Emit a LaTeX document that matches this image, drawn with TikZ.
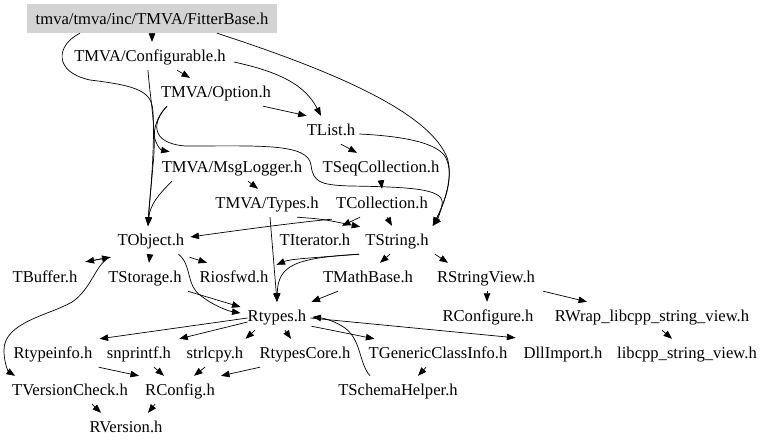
\documentclass[tikz,border=0pt]{standalone}
\usepackage{fontspec}
\setmainfont{Liberation Serif}
\usetikzlibrary{arrows.meta,calc}
\definecolor{boxgray}{RGB}{211,211,211}
\begin{document}
\begin{tikzpicture}[x=1pt,y=1pt,
 lbl/.style={inner sep=0pt,minimum height=28pt,text height=11.5pt,text depth=0pt,font=\fontsize{16.6}{19}\selectfont},
 arr/.style={-{Triangle[length=8.5pt,width=6.5pt]},line width=0.7pt}]
\fill[white] (0,0) rectangle (768,-447);
\path[use as bounding box] (0,0) rectangle (768,-447);
% nodes
\node[lbl,fill=boxgray,minimum width=250pt,minimum height=29pt] (fb) at (152,-18.5) {tmva/tmva/inc/TMVA/FitterBase.h};
\node[lbl] (conf) at (150,-56) {TMVA/Configurable.h};
\node[lbl] (opt) at (216,-92) {TMVA/Option.h};
\node[lbl] (tlist) at (331,-130) {TList.h};
\node[lbl] (msg) at (232,-167) {TMVA/MsgLogger.h};
\node[lbl] (tseq) at (381,-167) {TSeqCollection.h};
\node[lbl] (types) at (267,-203) {TMVA/Types.h};
\node[lbl] (tcoll) at (382,-203) {TCollection.h};
\node[lbl] (obj) at (151,-240) {TObject.h};
\node[lbl] (titer) at (315,-240) {TIterator.h};
\node[lbl] (tstr) at (397,-240) {TString.h};
\node[lbl] (tbuf) at (45,-277) {TBuffer.h};
\node[lbl] (tsto) at (145,-277) {TStorage.h};
\node[lbl] (rios) at (234,-277) {Riosfwd.h};
\node[lbl] (tmath) at (368,-277) {TMathBase.h};
\node[lbl] (rsv) at (486,-277) {RStringView.h};
\node[lbl] (rtypes) at (277,-316) {Rtypes.h};
\node[lbl] (rconfigure) at (488,-316) {RConfigure.h};
\node[lbl] (rwrap) at (652,-316) {RWrap\_libcpp\_string\_view.h};
\node[lbl] (rtinfo) at (53,-353) {Rtypeinfo.h};
\node[lbl] (snp) at (139,-353) {snprintf.h};
\node[lbl] (strl) at (215,-353) {strlcpy.h};
\node[lbl] (rtcore) at (305,-353) {RtypesCore.h};
\node[lbl] (tgci) at (438,-353) {TGenericClassInfo.h};
\node[lbl] (dll) at (563,-353) {DllImport.h};
\node[lbl] (libcpp) at (687,-353) {libcpp\_string\_view.h};
\node[lbl] (tver) at (70,-390) {TVersionCheck.h};
\node[lbl] (rconfig) at (180,-390) {RConfig.h};
\node[lbl] (tschema) at (398,-390) {TSchemaHelper.h};
\node[lbl] (rver) at (126,-427) {RVersion.h};
% edges
\draw[arr] (fb.south) -- (conf.north -| fb.south);
\draw[arr] ([xshift=-72pt]fb.south) .. controls (56,-45) and (53,-72) .. (90,-80) .. controls (140,-86) and (152,-92) .. (153,-112) .. controls (155,-150) and (150,-195) .. ([xshift=-3pt]obj.north);
\draw[arr] ([xshift=-2pt]conf.south) .. controls (150,-100) and (157,-130) .. (153,-165) .. controls (151,-190) and (149,-205) .. ([xshift=-3pt]obj.north);
\draw[arr] ([xshift=27pt]conf.south) -- ([xshift=-26pt]opt.north);
\draw[arr] ([xshift=8pt,yshift=-6pt]conf.east) .. controls (280,-72) and (305,-85) .. ([xshift=-10pt]tlist.north);
\draw[arr] ([xshift=65pt]fb.south) .. controls (330,-70) and (425,-110) .. (446,-155) .. controls (454,-172) and (446,-200) .. ([xshift=4pt]tstr.north east);
\draw[arr] ([xshift=4pt,yshift=-4pt]tlist.east) .. controls (400,-136) and (438,-142) .. (446,-158) .. controls (454,-175) and (446,-200) .. ([xshift=4pt]tstr.north east);
\draw[arr] ([xshift=-8pt]opt.south east) -- (tlist.north west);
\draw[arr] ([xshift=-49pt]opt.south) .. controls (155,-118) and (152,-135) .. (156,-142) .. controls (158,-147) and (161,-150) .. ([xshift=8pt,yshift=1pt]msg.north west);
\draw[arr] ([xshift=-49pt]opt.south) .. controls (152,-122) and (150,-143) .. (185,-146) .. controls (260,-146) and (308,-143) .. (311,-165) .. controls (313,-182) and (320,-185) .. (350,-186) .. controls (420,-187) and (445,-190) .. (442,-205) .. controls (440,-215) and (436,-222) .. ([xshift=4pt]tstr.north east);
\draw[arr] ([xshift=-60pt]msg.south) .. controls (158,-195) and (150,-205) .. ([xshift=-3pt]obj.north);
\draw[arr] ([xshift=16pt]msg.south) -- ([xshift=-9pt]types.north);
\draw[arr] ([xshift=10pt]tlist.south) -- ([xshift=-24pt]tseq.north);
\draw[arr] (tseq.south) -- (tcoll.north);
\draw[arr] ([xshift=5pt]tcoll.south) -- ([xshift=-5pt]tstr.north);
\draw[arr] ([xshift=-22pt]tcoll.south) -- ([xshift=27pt]titer.north);
\draw[arr] ([xshift=-4pt,yshift=-2pt]tcoll.south west) .. controls (300,-222) and (240,-230) .. ([xshift=6pt,yshift=3pt]obj.east);
\draw[arr] ([xshift=30pt]types.south) .. controls (322,-219) .. ([xshift=-5pt,yshift=-1pt]tstr.north west);
\draw[arr] ([xshift=3pt]types.south) -- (rtypes.north);
\draw[arr] ([xshift=-38pt]tstr.south) .. controls (295,-258) and (278,-265) .. (rtypes.north);
\draw[arr] ([xshift=-38pt]tstr.south) .. controls (310,-258) and (290,-259) .. ([xshift=8pt,yshift=-2pt]rios.north east);
\draw[arr] ([xshift=-7pt]tstr.south) -- ([xshift=12pt]tmath.north);
\draw[arr] ([xshift=38pt]tstr.south) -- ([xshift=-38pt]rsv.north);
\draw[arr] ([xshift=1pt]rsv.south) -- ([xshift=-1pt]rconfigure.north);
\draw[arr] ([xshift=8pt]rsv.south east) -- ([xshift=-65pt]rwrap.north);
\draw[arr] ([xshift=10pt]rwrap.south) -- ([xshift=-15pt]libcpp.north);
\draw[arr] ([xshift=-30pt]tmath.south) -- ([xshift=5pt]rtypes.north east);
\draw[arr] ([xshift=-1pt]obj.south) -- ([xshift=4pt]tsto.north);
\draw[arr] ([xshift=5pt,yshift=-3pt]obj.south east) -- ([xshift=-27pt]rios.north);
\draw[arr] ([xshift=-6pt]obj.south east) .. controls (192,-265) and (186,-285) .. (200,-295) .. controls (212,-305) and (228,-311) .. ([xshift=-7pt,yshift=3pt]rtypes.west);
\draw[arr] ([xshift=6pt]tsto.south east) -- ([xshift=-7pt,yshift=9pt]rtypes.west);
\draw[arr] ([xshift=-7pt,yshift=-3pt]obj.south west) -- ([xshift=8pt,yshift=1pt]tbuf.north east);
\draw[arr] ([xshift=8pt,yshift=1pt]tbuf.north east) -- ([xshift=-7pt,yshift=-3pt]obj.south west);
\draw[arr] ([xshift=-12pt,yshift=-6pt]obj.south west) .. controls (95,-268) and (90,-290) .. (72,-302) .. controls (50,-315) and (4,-322) .. (4,-350) .. controls (4,-365) and (9,-372) .. ([xshift=-55pt]tver.north);
\draw[arr] ([yshift=-2pt]rtypes.west) -- ([xshift=7pt]rtinfo.north east);
\draw[arr] ([yshift=-6pt]rtypes.west) -- ([xshift=8pt]snp.north east);
\draw[arr] ([xshift=-22pt]rtypes.south) -- ([xshift=2pt]strl.north east);
\draw[arr] ([xshift=8pt]rtypes.south) -- ([xshift=-14pt]rtcore.north);
\draw[arr] ([xshift=5pt,yshift=4pt]rtypes.south east) -- ([xshift=6pt]tgci.north west);
\draw[arr] ([xshift=4pt,yshift=-2pt]rtypes.east) -- ([xshift=-8pt,yshift=1pt]dll.north west);
\draw[arr] ([xshift=-28pt]tschema.north) .. controls (358,-362) and (362,-338) .. (342,-326) .. controls (332,-320) and (322,-318) .. ([xshift=6pt,yshift=-1pt]rtypes.east);
\draw[arr] ([xshift=-12pt]tgci.south) -- ([xshift=20pt]tschema.north);
\draw[arr] ([xshift=6pt]rtinfo.south east) -- ([xshift=-6pt]rconfig.north west);
\draw[arr] ([xshift=15pt]snp.south) -- ([xshift=-16pt]rconfig.north);
\draw[arr] ([xshift=-10pt]strl.south) -- ([xshift=14pt]rconfig.north);
\draw[arr] ([xshift=-45pt]rtcore.south) -- ([xshift=6pt]rconfig.north east);
\draw[arr] ([xshift=22pt]tver.south) -- ([xshift=-25pt]rver.north);
\draw[arr] ([xshift=-25pt]rconfig.south) -- ([xshift=22pt]rver.north);
\end{tikzpicture}
\end{document}
